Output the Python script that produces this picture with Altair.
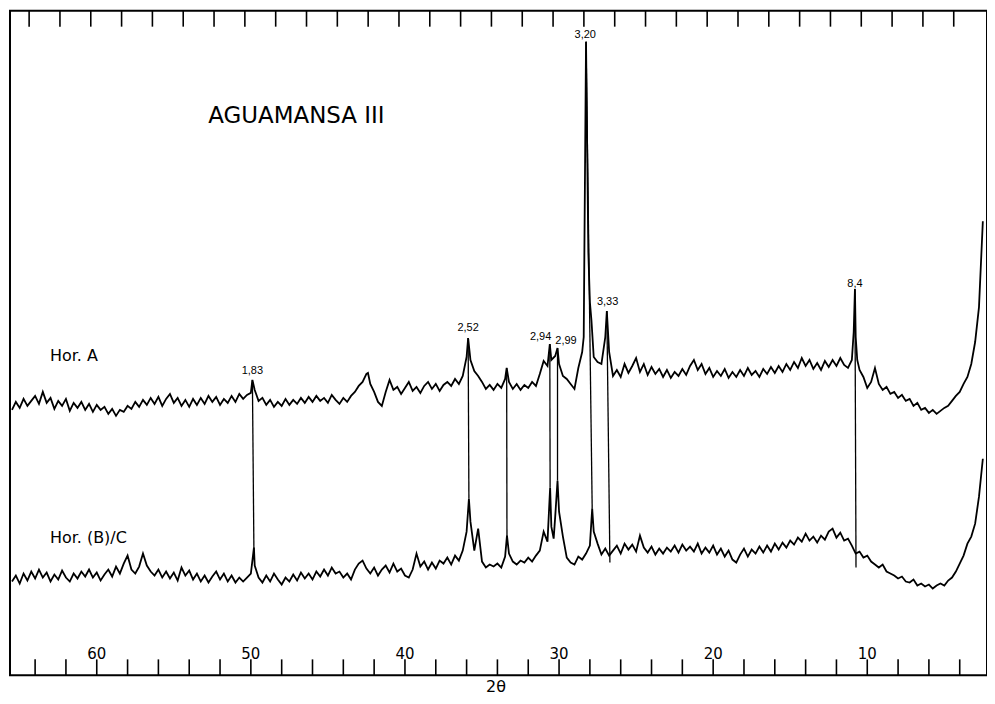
import altair as alt
import pandas as pd

# ---------------- data ----------------
# 2-theta grid: 65.5 then blocks of 4 values (n+0.25, n, n-0.25, n-0.5) for n = 65 .. 3
A_first = 272
A_blocks = [
    [280, 274, 283, 276], [281, 286, 278, 290], [279, 284, 273, 281], [276, 283, 271, 279],  # 65..62
    [274, 280, 272, 278], [270, 277, 272, 275], [268, 273, 266, 272], [270, 276, 273, 280],  # 61..58
    [275, 282, 277, 284], [278, 285, 276, 283], [288, 279, 284, 276], [282, 275, 283, 277],  # 57..54
    [284, 278, 286, 280], [285, 277, 283, 279], [286, 280, 288, 283], [287, 289, 292, 281],  # 53..50
    [284, 277, 282, 275], [280, 276, 283, 277], [282, 278, 284, 279], [285, 280, 286, 281],  # 49..46
    [284, 279, 287, 282], [278, 284, 280, 286], [290, 296, 300, 308], [298, 290, 280, 276],  # 45..42
    [290, 302, 292, 295], [288, 294, 300, 291], [295, 289, 296, 300], [293, 298, 291, 297],  # 41..38
    [300, 296, 303, 298], [306, 325, 322, 311], [306, 300, 293, 297], [292, 298, 294, 303],  # 37..34
    [300, 293, 298, 292], [297, 294, 300, 296], [308, 321, 316, 322], [326, 318, 306, 303],  # 33..30
    [298, 293, 314, 330], [641, 380, 325, 320], [318, 345, 330, 306], [312, 305, 318, 309],  # 29..26
    [316, 324, 310, 318], [307, 315, 308, 313], [305, 312, 304, 310], [306, 313, 307, 316],  # 25..22
    [322, 312, 318, 308], [314, 305, 311, 306], [313, 304, 310, 305], [312, 306, 314, 307],  # 21..18
    [311, 305, 313, 308], [315, 309, 316, 310], [318, 312, 320, 314], [324, 316, 322, 313],  # 17..14
    [319, 312, 321, 315], [322, 316, 324, 317], [314, 322, 345, 312], [305, 294, 300, 314],  # 13..10
    [298, 292, 295, 288], [290, 284, 287, 281], [283, 276, 279, 272], [274, 269, 272, 268],  # 9..6
    [271, 274, 276, 281], [286, 290, 298, 305], [318, 340, 375, 461],                         # 5..3
]
A_extra_theta = [49.9, 42.4, 35.9, 33.4, 30.6, 30.1, 28.4, 28.1, 27.9, 26.9, 10.88, 10.8, 10.65]
A_extra_v     = [302, 309, 344, 314, 338, 334, 345, 430, 362, 371, 350, 393, 322]

B_first = 100
B_blocks = [
    [106, 98, 108, 101], [110, 103, 112, 104], [109, 100, 107, 102], [111, 104, 100, 108],  # 65..62
    [103, 110, 105, 112], [104, 109, 101, 107], [112, 105, 115, 108], [118, 126, 112, 108],  # 61..58
    [115, 128, 116, 110], [106, 112, 104, 110], [103, 109, 101, 114], [106, 111, 102, 108],  # 57..54
    [100, 106, 99, 105], [110, 102, 108, 100], [106, 99, 104, 100], [104, 108, 116, 104],    # 53..50
    [99, 106, 100, 108], [102, 97, 104, 100], [107, 101, 109, 103], [108, 102, 110, 105],    # 49..46
    [112, 106, 114, 108], [110, 104, 108, 102], [112, 118, 121, 113], [108, 114, 106, 112],  # 45..42
    [116, 109, 118, 110], [113, 106, 104, 112], [128, 115, 120, 112], [119, 113, 121, 118],  # 41..38
    [124, 117, 126, 121], [131, 150, 160, 131], [153, 120, 114, 117], [115, 118, 114, 125],  # 37..34
    [128, 120, 117, 121], [119, 124, 120, 126], [131, 150, 140, 155], [165, 170, 145, 124],  # 33..30
    [119, 117, 125, 122], [128, 136, 150, 138], [127, 133, 126, 131], [136, 128, 138, 132],  # 29..26
    [137, 130, 146, 134], [129, 135, 127, 133], [128, 134, 130, 136], [129, 137, 131, 135],  # 25..22
    [130, 138, 128, 134], [129, 136, 127, 133], [125, 131, 122, 119], [127, 133, 125, 132],  # 21..18
    [128, 135, 129, 136], [130, 138, 132, 139], [134, 141, 137, 144], [140, 148, 141, 145],  # 17..14
    [139, 146, 142, 150], [153, 144, 149, 141], [143, 136, 128, 130], [124, 126, 120, 117],  # 13..10
    [114, 117, 110, 108], [106, 103, 105, 100], [99, 102, 96, 98], [95, 97, 93, 96],         # 9..6
    [98, 96, 101, 104], [110, 118, 126, 138], [145, 158, 185, 223],                          # 5..3
]
B_extra_theta = [49.8, 35.85, 33.38, 30.58, 30.35, 30.1, 27.85]
B_extra_v     = [134, 183, 146, 194, 143, 201, 173]

# vertical connecting lines: from Hor. A peak to Hor. (B)/C
drop_thetaA = [49.9, 35.9, 33.4, 30.6, 30.1, 28.25, 26.9, 10.8]
drop_vA     = [302, 344, 314, 338, 334, 641, 371, 393]
drop_thetaB = [49.8, 35.85, 33.38, 30.58, 30.1, 27.85, 26.7, 10.73]
drop_vB     = [128, 183, 141, 194, 201, 173, 119, 114]

# d-spacing labels
peak_labels = ["1,83", "2,52", "2,94", "2,99", "3,20", "3,33", "8,4"]
peak_theta  = [49.9, 35.9, 31.2, 29.55, 28.3, 26.85, 10.8]
peak_v      = [306, 349, 340, 336, 643, 375, 393]

tick_values = list(range(4, 65, 2))
tick_labels = [60, 50, 40, 30, 20, 10]

# ---------------- build tables ----------------
def build(first, blocks, ex_t, ex_v, name):
    vals = [first] + [v for b in blocks for v in b]
    th = [round(65.5 - 0.25 * i, 2) for i in range(len(vals))]
    rows = list(zip(th, vals)) + list(zip(ex_t, ex_v))
    rows.sort(key=lambda r: -r[0])
    return pd.DataFrame({"theta": [r[0] for r in rows], "v": [r[1] for r in rows],
                         "idx": list(range(len(rows))), "series": name})

traces = pd.concat([build(A_first, A_blocks, A_extra_theta, A_extra_v, "A"),
                    build(B_first, B_blocks, B_extra_theta, B_extra_v, "B")])
drops = pd.DataFrame({"tA": drop_thetaA, "vA": drop_vA, "tB": drop_thetaB, "vB": drop_vB})
peaks = pd.DataFrame({"theta": peak_theta, "v": peak_v, "label": peak_labels})
ticks = pd.DataFrame({"theta": tick_values})
tlabs = pd.DataFrame({"theta": tick_labels, "label": [str(t) for t in tick_labels]})

W, H = 979, 666
xs = alt.Scale(domain=[2.23, 65.63], reverse=True, nice=False, zero=False)
ys = alt.Scale(domain=[6, 672], nice=False, zero=False)

lines = alt.Chart(traces).mark_line(color="black", strokeWidth=1.8).encode(
    x=alt.X("theta:Q", scale=xs, axis=None),
    y=alt.Y("v:Q", scale=ys, axis=None),
    detail="series:N",
    order="idx:Q",
)

droplines = alt.Chart(drops).mark_rule(color="black", strokeWidth=1.3).encode(
    x=alt.X("tA:Q", scale=xs, axis=None), x2="tB:Q",
    y=alt.Y("vA:Q", scale=ys, axis=None), y2="vB:Q",
)

peak_text = alt.Chart(peaks).mark_text(font="Liberation Sans", fontSize=11, color="black",
                                       baseline="bottom").encode(
    x=alt.X("theta:Q", scale=xs, axis=None),
    y=alt.Y("v:Q", scale=ys, axis=None),
    text="label:N",
)

bottom_ticks = alt.Chart(ticks).mark_rule(color="black", strokeWidth=1.6).encode(
    x=alt.X("theta:Q", scale=xs, axis=None), y=alt.value(H - 16), y2=alt.value(H))
top_ticks = alt.Chart(ticks).mark_rule(color="black", strokeWidth=1.6, xOffset=-6).encode(
    x=alt.X("theta:Q", scale=xs, axis=None), y=alt.value(0), y2=alt.value(16))

tick_text = alt.Chart(tlabs).mark_text(font="DejaVu Sans", fontSize=15, color="black",
                                       baseline="middle").encode(
    x=alt.X("theta:Q", scale=xs, axis=None), y=alt.value(H - 21), text="label:N")

def label(txt, x, y, size, align="left", baseline="middle", font="DejaVu Sans"):
    return alt.Chart(pd.DataFrame({"t": [txt]})).mark_text(
        font=font, fontSize=size, color="black", align=align, baseline=baseline).encode(
        x=alt.value(x), y=alt.value(y), text="t:N")

title = label("AGUAMANSA III", 287, 106, 23, align="center")
horA = label("Hor. A", 40, 346, 16)
horB = label("Hor. (B)/C", 40, 528, 16)
axis_title = label("2θ", 487, 686, 16, align="center", baseline="bottom")

chart = alt.layer(
    lines, droplines, peak_text, bottom_ticks, top_ticks, tick_text,
    title, horA, horB, axis_title,
).properties(
    width=W, height=H,
    padding={"left": 0, "top": 1, "right": 0, "bottom": 0},
    background="white",
).configure_view(stroke="black", strokeWidth=2)

chart.save("out.html", embed_options={"renderer": "svg", "actions": False})
